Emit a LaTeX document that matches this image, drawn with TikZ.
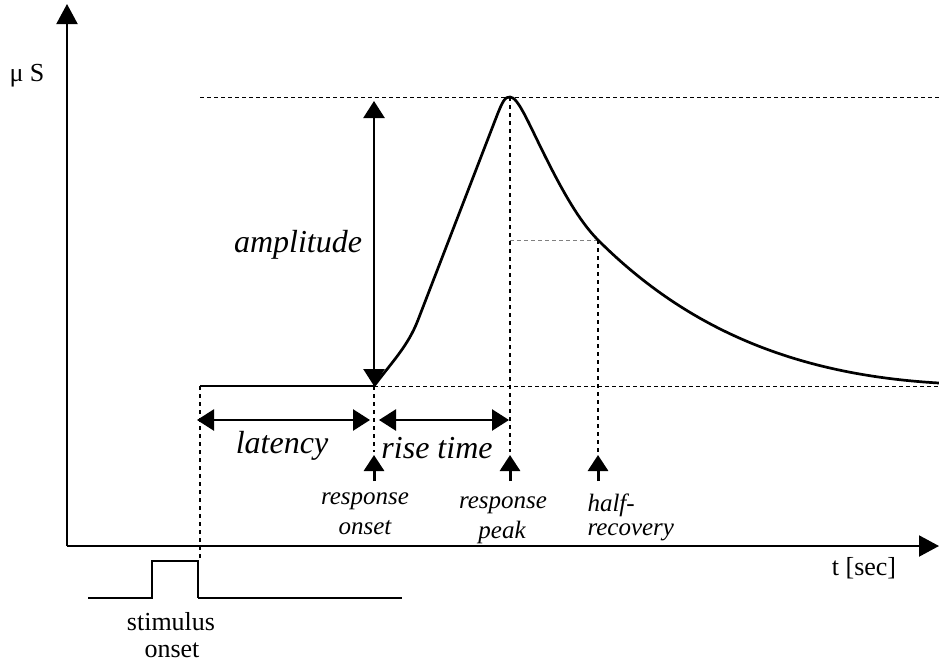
\documentclass[tikz,border=0pt]{standalone}
\usepackage{fontspec}
\setmainfont{Liberation Serif}
\usetikzlibrary{arrows.meta}

\begin{document}
\begin{tikzpicture}[x=1pt,y=-1pt,
    axe/.style={line width=2pt,-{Triangle[length=20pt,width=21pt]}},
    mesure/.style={line width=2.5pt,{Triangle[length=17pt,width=21pt]}-{Triangle[length=17pt,width=21pt]}},
    fleche/.style={line width=3pt,-{Triangle[length=16pt,width=20pt]}},
    pointille/.style={line width=2.5pt,dash pattern=on 4pt off 4pt},
    tirete/.style={line width=1pt,dash pattern=on 4pt off 3pt},
    grand/.style={font=\fontsize{32}{35}\selectfont\itshape},
    petit/.style={font=\fontsize{25}{28}\selectfont\itshape},
    texte/.style={font=\fontsize{26}{29}\selectfont}]
    \useasboundingbox (0,0) rectangle (939,664);
    % axes
    \coordinate (O) at (67,546);
    \coordinate (xmax) at (939,546);
    \coordinate (ymax) at (67,4);
    \draw[axe] (O)--(xmax);
    \draw[axe] (O)--(ymax);
    \node[texte] (muS) at (27,76) {μ S};
    \node[texte] (tsec) at (864,568) {t [sec]};
    % points de la reponse
    \coordinate (D) at (200,386);
    \coordinate (R) at (374,386);
    \coordinate (P) at (510,97);
    \coordinate (H) at (598,240);
    \coordinate (E) at (939,383);
    \draw[tirete] (200,97)--(939,97);
    \draw[tirete] (R)--(939,386);
    \draw[tirete,gray] (510,240)--(H);
    \draw[line width=1.5pt] (D)--(R);
    \draw[line width=2.7pt] (R) .. controls (392,362) and (408,346) .. (418,320) -- (496,118)
        .. controls (503,100) and (505,97) .. (P) .. controls (518,97) and (528,122) .. (545,156)
        .. controls (560,186) and (578,220) .. (H) .. controls (690,332) and (800,375) .. (E);
    \draw[pointille] (D)--(200,561);
    \draw[pointille] (R)--(374,452);
    \draw[pointille] (P)--(510,452);
    \draw[pointille] (H)--(598,452);
    % mesures
    \coordinate (A) at (374,101);
    \draw[mesure] (A)--(R);
    \node[grand] (amp) at (298,245) {amplitude};
    \coordinate (L1) at (197,420);
    \coordinate (L2) at (370,420);
    \coordinate (T1) at (379,420);
    \coordinate (T2) at (509,420);
    \draw[mesure] (L1)--(L2);
    \draw[mesure] (T1)--(T2);
    \node[grand] (lat) at (282,446) {latency};
    \node[grand] (rise) at (437,448) {rise time};
    \foreach \x in {374,510,598}
        \draw[fleche] (\x,481)--(\x,455);
    \node[petit] (ro1) at (365,501) {response};
    \node[petit] (ro2) at (365,528) {onset};
    \node[petit] (rp1) at (503,505) {response};
    \node[petit] (rp2) at (502,532) {peak};
    \node[petit,anchor=west] (hr1) at (584,505) {half-};
    \node[petit,anchor=west] (hr2) at (584,532) {recovery};
    % stimulus
    \draw[line width=2.5pt] (88,598)--(152,598)--(152,561)--(198,561)--(198,598);
    \draw[line width=1.5pt] (198,598)--(402,598);
    \node[texte] (st1) at (171,622) {stimulus};
    \node[texte] (st2) at (172,650) {onset};
\end{tikzpicture}
\end{document}
